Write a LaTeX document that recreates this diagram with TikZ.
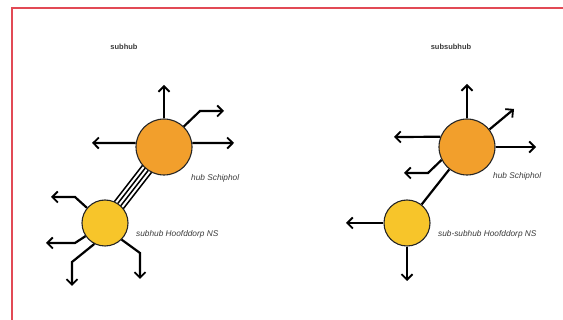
\documentclass[tikz,border=0pt]{standalone}
\usepackage{fontspec}
\setmainfont{Liberation Sans}
\usetikzlibrary{arrows.meta,calc,backgrounds}
\definecolor{hubor}{HTML}{F29F2C}
\definecolor{subyel}{HTML}{F7C52A}
\definecolor{frame}{HTML}{E24A55}
\definecolor{txt}{HTML}{3A3A3A}
\tikzset{
  hubc/.style={circle,draw=black!85,line width=1.1pt,fill=hubor,minimum size=56pt,inner sep=0pt},
  subc/.style={circle,draw=black!85,line width=1.1pt,fill=subyel,minimum size=46pt,inner sep=0pt},
  arr/.style={line width=2.2pt,-{Straight Barb[length=5.5pt,width=11pt,line width=1.8pt]}},
  link/.style={line width=1.5pt},
  lbl/.style={font=\itshape\fontsize{8.3}{9}\selectfont,text=txt,inner sep=0pt,anchor=west},
  ttl/.style={font=\bfseries\fontsize{7.5}{8}\selectfont,text=txt,inner sep=0pt}
}
\begin{document}
\begin{tikzpicture}[x=1pt,y=-1pt]
\useasboundingbox (0,0) rectangle (563,320);
\draw[frame,line width=2pt] (11.5,320) -- (11.5,8.5) -- (563,8.5);

% titles
\node[ttl] (t1) at (124,47) {subhub};
\node[ttl] (t2) at (451,47) {subsubhub};

% ---------- left diagram ----------
\node[hubc] (hubL) at (164,147) {};
\node[subc] (subL) at (105,223) {};
\coordinate (hlU) at (164,85);
\coordinate (hlW) at (92,143);
\coordinate (hlE) at (234,143);
\coordinate (hlB) at (200,111);
\coordinate (hlR) at (224,111);
\coordinate (slB1) at (75,197);
\coordinate (slE1) at (51,197);
\coordinate (slB2) at (75,243);
\coordinate (slE2) at (46,243);
\coordinate (slB3) at (72,262);
\coordinate (slE3) at (72,286);
\coordinate (slB4) at (140,253);
\coordinate (slE4) at (140,279);

\begin{scope}[on background layer]
\foreach \d in {-5.7,-1.9,1.9,5.7}{
  \draw[link] ($(hubL)!\d pt!90:(subL)$) -- ($(subL)!\d pt!-90:(hubL)$);
}
\end{scope}
\draw[arr] (hubL.north) -- (hlU);
\draw[arr] (hubL.172) -- (hlW);
\draw[arr] (hubL.8) -- (hlE);
\draw[arr] (hubL.46) -- (hlB) -- (hlR);
\draw[arr] (subL.140) -- (slB1) -- (slE1);
\draw[arr] (subL.214) -- (slB2) -- (slE2);
\draw[arr] (subL.243) -- (slB3) -- (slE3);
\draw[arr] (subL.315) -- (slB4) -- (slE4);

\node[lbl] (lh1) at (191,178) {hub Schiphol};
\node[lbl] (ls1) at (136,234) {subhub Hoofddorp NS};

% ---------- right diagram ----------
\node[hubc] (hubR) at (467,147) {};
\node[subc] (subR) at (407,223) {};
\coordinate (hrU) at (467,84);
\coordinate (hrNE) at (514,109);
\coordinate (hrW) at (394,137);
\coordinate (hrE) at (536,147);
\coordinate (hrB) at (428,173);
\coordinate (hrL) at (404,173);
\coordinate (srW) at (346,223);
\coordinate (srS) at (407,281);

\begin{scope}[on background layer]
\draw[line width=2.2pt] (hubR) -- (subR);
\end{scope}
\draw[arr] (hubR.north) -- (hrU);
\draw[arr] (hubR.38) -- (hrNE);
\draw[arr] (hubR.159) -- (hrW);
\draw[arr] (hubR.east) -- (hrE);
\draw[arr] (hubR.207) -- (hrB) -- (hrL);
\draw[arr] (subR.west) -- (srW);
\draw[arr] (subR.south) -- (srS);

\node[lbl] (lh2) at (493,176) {hub Schiphol};
\node[lbl] (ls2) at (438,234) {sub-subhub Hoofddorp NS};
\end{tikzpicture}
\end{document}
